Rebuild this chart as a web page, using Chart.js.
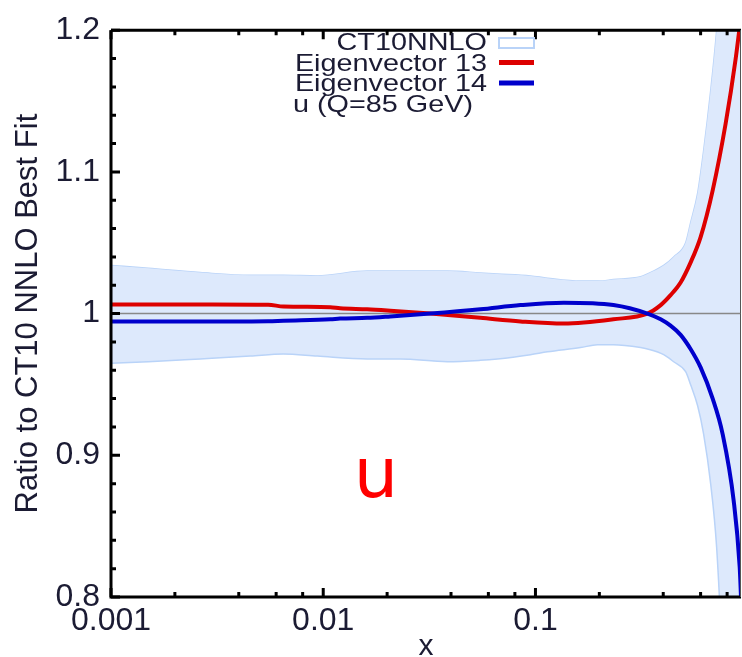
<!DOCTYPE html>
<html>
<head>
<meta charset="utf-8">
<script src="https://cdn.jsdelivr.net/npm/chart.js@4"></script>
<style>
  body { margin: 0; background: #fff; }
  #wrap { width: 742px; height: 657px; }
</style>
</head>
<body>
<div id="wrap"><canvas id="Chart" width="742" height="657"></canvas></div>
<script>
// band of CT10NNLO uncertainty (upper / lower edge)
const bandX = [0.001, 0.0015, 0.00263, 0.00453, 0.00648, 0.00937, 0.0161, 0.0231, 0.0384, 0.055, 0.0662, 0.0947, 0.114, 0.163, 0.196, 0.233, 0.313, 0.337, 0.402, 0.448, 0.510, 0.538, 0.581, 0.620, 0.669, 0.714, 0.762, 0.831, 0.93];
const bandUp = [1.034, 1.032, 1.029, 1.027, 1.027, 1.0266, 1.030, 1.030, 1.030, 1.0287, 1.028, 1.0266, 1.025, 1.023, 1.023, 1.024, 1.026, 1.028, 1.034, 1.040, 1.050, 1.064, 1.085, 1.115, 1.157, 1.2, 1.26, 1.36, 1.55];
const bandLo = [0.965, 0.966, 0.968, 0.970, 0.9715, 0.970, 0.968, 0.968, 0.966, 0.967, 0.968, 0.971, 0.973, 0.976, 0.978, 0.978, 0.976, 0.975, 0.971, 0.966, 0.959, 0.950, 0.935, 0.915, 0.88, 0.835, 0.75, 0.6, 0.4];

// eigenvector 13
const redX = [0.001, 0.003, 0.0055, 0.0065, 0.0108, 0.012, 0.0161, 0.0207, 0.032, 0.055, 0.085, 0.136, 0.233, 0.337, 0.389, 0.433, 0.483, 0.538, 0.600, 0.684, 0.787, 0.878, 0.93];
const redY = [1.0065, 1.0065, 1.0063, 1.005, 1.0045, 1.0037, 1.003, 1.002, 1.0, 0.997, 0.9945, 0.993, 0.996, 1.0, 1.006, 1.013, 1.022, 1.036, 1.054, 1.087, 1.134, 1.18, 1.21];

// eigenvector 14
const blueX = [0.001, 0.003, 0.0055, 0.0065, 0.0108, 0.012, 0.0161, 0.0207, 0.032, 0.055, 0.085, 0.136, 0.233, 0.337, 0.389, 0.433, 0.483, 0.538, 0.600, 0.684, 0.762, 0.859, 0.917, 0.93];
const blueY = [0.9944, 0.9944, 0.9946, 0.995, 0.996, 0.9965, 0.997, 0.998, 1.0, 1.003, 1.006, 1.0077, 1.006, 1.0, 0.996, 0.9915, 0.985, 0.975, 0.962, 0.94, 0.915, 0.868, 0.821, 0.80];

const xMajor = [0.001, 0.01, 0.1];
const xMinor = [0.002, 0.004, 0.006, 0.008, 0.02, 0.04, 0.06, 0.08, 0.2, 0.4, 0.6, 0.8];
const yTicks = [0.8, 0.9, 1.0, 1.1, 1.2];
const legendLabels = ["CT10NNLO", "Eigenvector 13", "Eigenvector 14", "u (Q=85 GeV)"];

function pts(xs, ys) {
  return xs.map((x, i) => ({ x: x, y: ys[i] }));
}

// frame + inward ticks, gnuplot style
const framePlugin = {
  id: "frame",
  afterDatasetsDraw(chart) {
    const ctx = chart.ctx;
    const a = chart.chartArea;
    const xs = chart.scales.x, ys = chart.scales.y;
    ctx.save();
    ctx.strokeStyle = "#000";
    ctx.lineWidth = 3;
    ctx.beginPath();
    ctx.moveTo(a.left, a.top); ctx.lineTo(a.right, a.top);
    ctx.moveTo(a.left, a.top); ctx.lineTo(a.left, a.bottom); ctx.lineTo(a.right, a.bottom);
    ctx.stroke();
    ctx.lineWidth = 1;
    ctx.strokeStyle = "#555";
    ctx.beginPath();
    ctx.moveTo(a.right - 0.5, a.top); ctx.lineTo(a.right - 0.5, a.bottom);
    ctx.stroke();

    ctx.strokeStyle = "#000";
    ctx.lineWidth = 3;
    ctx.beginPath();
    const xt = (v, len) => {
      const p = xs.getPixelForValue(v);
      ctx.moveTo(p, a.bottom); ctx.lineTo(p, a.bottom - len);
      ctx.moveTo(p, a.top); ctx.lineTo(p, a.top + len);
    };
    xMajor.forEach((v) => xt(v, 9));
    xMinor.forEach((v) => xt(v, 5));
    for (let k = 0; k <= 20; k++) {
      const v = 0.8 + k * 0.02;
      const p = ys.getPixelForValue(v);
      const len = k % 5 == 0 ? 9 : 5;
      ctx.moveTo(a.left, p); ctx.lineTo(a.left + len, p);
    }
    ctx.stroke();
    ctx.restore();
  },
  afterDraw(chart) {
    const ctx = chart.ctx;
    ctx.save();
    // legend, text is a bit wide in the original
    ctx.fillStyle = "#1b1b33";
    ctx.font = '24px "Liberation Sans", Arial, sans-serif';
    const base = [50, 70.5, 90.5, 112];
    for (let i = 0; i < 3; i++) {
      ctx.save();
      ctx.translate(487, base[i]);
      ctx.scale(1.2, 1);
      ctx.textAlign = "right";
      ctx.fillText(legendLabels[i], 0, 0);
      ctx.restore();
    }
    ctx.save();
    ctx.translate(293, base[3]);
    ctx.scale(1.2, 1);
    ctx.textAlign = "left";
    ctx.fillText(legendLabels[3], 0, 0);
    ctx.restore();

    ctx.fillStyle = "#fff";
    ctx.strokeStyle = "#b9d3f8";
    ctx.lineWidth = 2;
    ctx.fillRect(499, 38, 35, 10);
    ctx.strokeRect(499, 38, 35, 10);
    ctx.lineWidth = 5;
    ctx.strokeStyle = "#dd0000";
    ctx.beginPath(); ctx.moveTo(499, 62.5); ctx.lineTo(534, 62.5); ctx.stroke();
    ctx.strokeStyle = "#0000cc";
    ctx.beginPath(); ctx.moveTo(499, 83); ctx.lineTo(534, 83); ctx.stroke();

    // big "u" label
    ctx.fillStyle = "#ff0000";
    ctx.font = '70px "DejaVu Sans", sans-serif';
    ctx.textAlign = "center";
    ctx.fillText("u", 376, 497);
    ctx.restore();
  },
};

const data = {
  datasets: [
    {
      label: "up",
      data: pts(bandX, bandUp),
      borderColor: "#b9d3f8",
      borderWidth: 1.5,
      pointRadius: 0,
      cubicInterpolationMode: "monotone",
      fill: false,
      order: 5,
    },
    {
      label: "lo",
      data: pts(bandX, bandLo),
      borderColor: "#b9d3f8",
      backgroundColor: "#dde9fc",
      borderWidth: 1.5,
      pointRadius: 0,
      cubicInterpolationMode: "monotone",
      fill: "-1",
      order: 4,
    },
    {
      label: "one",
      data: [{ x: 0.001, y: 1 }, { x: 0.93, y: 1 }],
      borderColor: "#888",
      borderWidth: 1.5,
      pointRadius: 0,
      fill: false,
      order: 3,
    },
    {
      label: "Eigenvector 13",
      data: pts(redX, redY),
      borderColor: "#dd0000",
      borderWidth: 4,
      pointRadius: 0,
      cubicInterpolationMode: "monotone",
      fill: false,
      order: 2,
    },
    {
      label: "Eigenvector 14",
      data: pts(blueX, blueY),
      borderColor: "#0000cc",
      borderWidth: 4,
      pointRadius: 0,
      cubicInterpolationMode: "monotone",
      fill: false,
      order: 1,
    },
  ],
};

const config = {
  type: "line",
  data,
  options: {
    responsive: false,
    animation: false,
    layout: { padding: { top: 24, right: 1, left: 0, bottom: 0 } },
    plugins: {
      legend: { display: false },
      tooltip: { enabled: false },
      title: { display: false },
    },
    scales: {
      x: {
        type: "logarithmic",
        min: 0.001,
        max: 0.93,
        afterBuildTicks: (s) => { s.ticks = xMajor.map((v) => ({ value: v })); },
        afterFit: (s) => { s.height = 60; },
        grid: { display: false, drawTicks: false },
        border: { display: false },
        ticks: {
          autoSkip: false,
          maxRotation: 0,
          padding: 5,
          color: "#1b1b33",
          font: { family: '"Liberation Sans", Arial, sans-serif', size: 32 },
          callback: (v) => String(v),
        },
        title: {
          display: true,
          text: "x",
          color: "#1b1b33",
          font: { family: '"Liberation Sans", Arial, sans-serif', size: 30 },
          padding: { top: 0, bottom: -8 },
        },
      },
      y: {
        min: 0.8,
        max: 1.2,
        afterBuildTicks: (s) => { s.ticks = yTicks.map((v) => ({ value: v })); },
        afterFit: (s) => { s.width = 111; },
        grid: { display: false, drawTicks: false },
        border: { display: false },
        ticks: {
          padding: 11,
          color: "#1b1b33",
          font: { family: '"Liberation Sans", Arial, sans-serif', size: 32 },
          callback: (v) => String(+v.toFixed(2)),
        },
        title: {
          display: true,
          text: "Ratio to CT10 NNLO Best Fit",
          color: "#1b1b33",
          font: { family: '"Liberation Sans", Arial, sans-serif', size: 31 },
          padding: { top: 10, bottom: 0 },
        },
      },
    },
  },
  plugins: [framePlugin],
};

new Chart(document.getElementById("Chart"), config);
</script>
</body>
</html>
